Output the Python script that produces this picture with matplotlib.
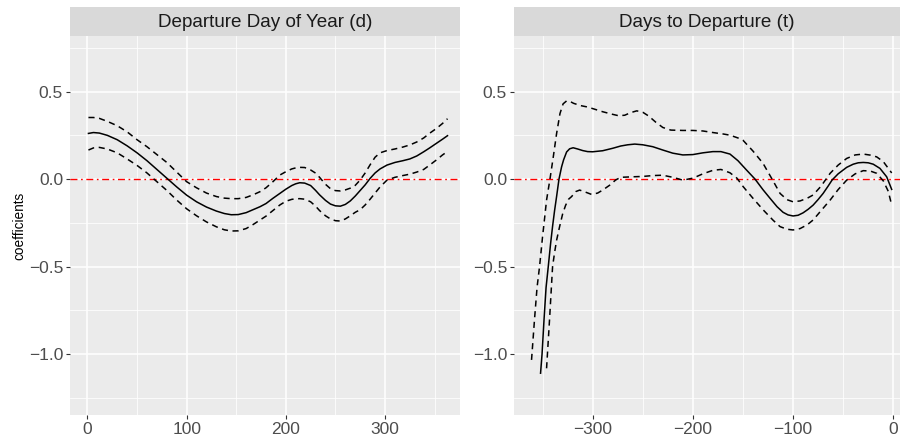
import matplotlib
matplotlib.use("Agg")
import matplotlib.pyplot as plt

plt.rcParams['font.family'] = ['Liberation Sans', 'DejaVu Sans']

# ---------------- data: left panel (Departure Day of Year) ----------------
d_x = [1, 6, 12, 20, 30, 40, 50, 60, 70, 80, 90, 100, 110, 120, 130, 138, 145, 152,
       160, 167, 174, 180, 187, 194, 200, 206, 210, 214, 219, 225, 230, 234, 240,
       245, 250, 255, 260, 265, 270, 275, 280, 285, 290, 295, 302, 310, 318, 325,
       332, 339, 345, 352, 358, 363]
d_fit = [0.261, 0.266, 0.263, 0.25, 0.225, 0.19, 0.15, 0.105, 0.055, 0.005, -0.045,
         -0.092, -0.13, -0.16, -0.183, -0.197, -0.204, -0.203, -0.192, -0.175, -0.158,
         -0.14, -0.11, -0.082, -0.058, -0.037, -0.027, -0.021, -0.023, -0.037, -0.065,
         -0.09, -0.122, -0.143, -0.153, -0.155, -0.145, -0.125, -0.097, -0.065,
         -0.033, 0.004, 0.035, 0.058, 0.08, 0.095, 0.105, 0.115, 0.132, 0.156, 0.178,
         0.205, 0.228, 0.248]
d_upper = [0.352, 0.352, 0.347, 0.33, 0.305, 0.27, 0.225, 0.185, 0.14, 0.095, 0.04,
           -0.015, -0.05, -0.08, -0.1, -0.109, -0.112, -0.112, -0.105, -0.09, -0.072,
           -0.05, -0.015, 0.023, 0.042, 0.058, 0.064, 0.067, 0.066, 0.052, 0.034,
           0.01, -0.03, -0.055, -0.066, -0.068, -0.062, -0.052, -0.036, -0.005, 0.035,
           0.082, 0.125, 0.15, 0.163, 0.172, 0.183, 0.195, 0.212, 0.235, 0.262, 0.29,
           0.318, 0.345]
d_lower = [0.166, 0.178, 0.181, 0.172, 0.15, 0.115, 0.078, 0.035, -0.015, -0.065,
           -0.12, -0.17, -0.21, -0.245, -0.273, -0.29, -0.297, -0.296, -0.283, -0.26,
           -0.234, -0.212, -0.18, -0.148, -0.127, -0.116, -0.113, -0.112, -0.115,
           -0.13, -0.155, -0.18, -0.21, -0.228, -0.238, -0.24, -0.228, -0.21, -0.19,
           -0.175, -0.148, -0.115, -0.08, -0.045, -0.006, 0.01, 0.02, 0.028, 0.04,
           0.055, 0.08, 0.11, 0.138, 0.158]

# ---------------- data: right panel (Days to Departure) ----------------
t_fit_x = [-352, -350.5, -348.5, -346.5, -344.3, -342, -340, -338, -336, -333.6,
           -331, -329, -326, -323, -319.5, -315, -310, -305, -300, -290, -280, -272,
           -265, -258, -250, -240, -230, -220, -210, -200, -190, -180, -172, -163,
           -155, -147, -138, -130, -123, -116, -110, -105, -100, -95, -90, -85, -80,
           -75, -70, -65, -61, -55, -46.5, -40, -35, -30, -25, -20, -13.3, -6.6, -1.6]
t_fit = [-1.11, -1.0, -0.8, -0.62, -0.5, -0.37, -0.27, -0.18, -0.1, 0.0, 0.07, 0.11,
         0.155, 0.173, 0.179, 0.172, 0.163, 0.157, 0.156, 0.162, 0.176, 0.189, 0.196,
         0.2, 0.196, 0.185, 0.166, 0.148, 0.138, 0.14, 0.15, 0.157, 0.157, 0.143,
         0.105, 0.055, 0.0, -0.061, -0.11, -0.158, -0.19, -0.205, -0.211, -0.207,
         -0.193, -0.173, -0.149, -0.117, -0.082, -0.04, -0.005, 0.03, 0.067, 0.085,
         0.093, 0.095, 0.093, 0.085, 0.061, 0.013, -0.059]

t_up_x = [-361, -358, -355.5, -353, -350, -346, -342.6, -339.3, -336, -332.6, -329.5,
          -326, -322, -319, -312, -306, -300, -290, -280, -274, -268, -262, -256,
          -250, -244, -237, -230, -222, -210, -200, -190, -180, -170, -163, -155,
          -150, -140, -130, -120, -113, -106, -100, -93, -86, -80, -72, -63, -55,
          -46.5, -38, -30, -23, -16.6, -10, -1.6]
t_upper = [-1.034, -0.8, -0.62, -0.5, -0.33, -0.12, 0.0, 0.127, 0.26, 0.375, 0.43,
           0.447, 0.442, 0.433, 0.42, 0.413, 0.403, 0.385, 0.37, 0.362, 0.365, 0.38,
           0.39, 0.382, 0.36, 0.325, 0.295, 0.28, 0.278, 0.278, 0.275, 0.266, 0.258,
           0.251, 0.235, 0.222, 0.16, 0.09, -0.01, -0.082, -0.118, -0.13, -0.125,
           -0.11, -0.091, -0.04, 0.033, 0.08, 0.118, 0.138, 0.143, 0.137, 0.127, 0.1,
           0.035]

t_lo_x = [-346, -343, -340, -338, -336, -333, -330, -327, -324, -321, -317, -313,
          -307, -301, -295, -290, -283, -277, -272, -260, -250, -240, -230, -220,
          -210, -200, -190, -180, -172, -163, -156, -149.7, -140, -129.7, -120, -113,
          -106, -100, -93, -86, -80, -72, -63, -55, -46.5, -38, -30, -23, -16.6, -10,
          -5, -1.6]
t_lower = [-1.082, -0.8, -0.5, -0.42, -0.35, -0.272, -0.2, -0.15, -0.115, -0.1,
           -0.072, -0.063, -0.075, -0.088, -0.08, -0.063, -0.035, -0.005, 0.01, 0.013,
           0.015, 0.02, 0.022, 0.01, -0.006, 0.005, 0.03, 0.05, 0.055, 0.036, 0.005,
           -0.044, -0.11, -0.177, -0.235, -0.272, -0.287, -0.291, -0.283, -0.262,
           -0.234, -0.18, -0.12, -0.06, -0.006, 0.03, 0.048, 0.046, 0.033, -0.01,
           -0.07, -0.149]

strip_titles = ["Departure Day of Year (d)", "Days to Departure (t)"]
y_label = "coefficients"
y_ticks = [-1.0, -0.5, 0.0, 0.5]
y_minor = [-1.25, -0.75, -0.25, 0.25, 0.75]
d_ticks = [0, 100, 200, 300]
d_minor = [50, 150, 250, 350]
t_ticks = [-300, -200, -100, 0]
t_minor = [-350, -250, -150, -50]

# ---------------- figure ----------------
W, H = 900, 440
fig = plt.figure(figsize=(W / 100, H / 100), dpi=100)
fig.patch.set_facecolor("white")

def fx(px):
    return px / W

def fy(py):
    return 1 - py / H

panel_top, panel_bot = 36, 415
strip_top = 7
panels = [
    dict(x0=70, x1=460, xlim=(-17.6, 375.6), ticks=d_ticks, minor=d_minor),
    dict(x0=514, x1=900, xlim=(-378.5, 6.7), ticks=t_ticks, minor=t_minor),
]

ylim = (-1.349, 0.818)
dash = (0, (4, 3))
axes = []
for i, p in enumerate(panels):
    ax = fig.add_axes([fx(p["x0"]), fy(panel_bot), fx(p["x1"] - p["x0"]),
                       (panel_bot - panel_top) / H])
    ax.set_facecolor("#EBEBEB")
    ax.set_xlim(*p["xlim"])
    ax.set_ylim(*ylim)
    for s in ax.spines.values():
        s.set_visible(False)
    for v in p["minor"]:
        ax.axvline(v, color="white", lw=0.55, zorder=0.5)
    for v in y_minor:
        ax.axhline(v, color="white", lw=0.55, zorder=0.5)
    for v in p["ticks"]:
        ax.axvline(v, color="white", lw=1.1, zorder=0.6)
    for v in y_ticks:
        ax.axhline(v, color="white", lw=1.1, zorder=0.6)
    ax.set_xticks(p["ticks"])
    ax.set_yticks(y_ticks)
    ax.set_xticklabels([("\u2212" + str(abs(v))) if v < 0 else str(v) for v in p["ticks"]])
    ax.set_yticklabels([("\u2212" if v < 0 else "") + f"{abs(v):.1f}" for v in y_ticks])
    ax.tick_params(axis="both", colors="#333333", labelcolor="#4D4D4D",
                   labelsize=12.5, length=3, width=0.8, pad=2)
    ax.axhline(0, color="red", lw=1.0, ls=(0, (5, 2.6, 1.2, 2.6)), zorder=2)

    sax = fig.add_axes([fx(p["x0"]), fy(panel_top), fx(p["x1"] - p["x0"]),
                        (panel_top - strip_top) / H])
    sax.set_facecolor("#D9D9D9")
    sax.set_xticks([])
    sax.set_yticks([])
    for s in sax.spines.values():
        s.set_visible(False)
    sax.text(0.5, 0.45, strip_titles[i], ha="center", va="center",
             fontsize=13.6, color="#1A1A1A", transform=sax.transAxes)
    axes.append(ax)

ax1, ax2 = axes
ax1.plot(d_x, d_fit, color="black", lw=1.1, zorder=3)
ax1.plot(d_x, d_upper, color="black", lw=1.1, ls=dash, zorder=3)
ax1.plot(d_x, d_lower, color="black", lw=1.1, ls=dash, zorder=3)

ax2.plot(t_fit_x, t_fit, color="black", lw=1.1, zorder=3)
ax2.plot(t_up_x, t_upper, color="black", lw=1.1, ls=dash, zorder=3)
ax2.plot(t_lo_x, t_lower, color="black", lw=1.1, ls=dash, zorder=3)

fig.text(fx(19), fy((panel_top + panel_bot) / 2), y_label, rotation=90,
         ha="center", va="center", fontsize=9.8, color="black")

fig.savefig("out.png", dpi=100, facecolor="white")
